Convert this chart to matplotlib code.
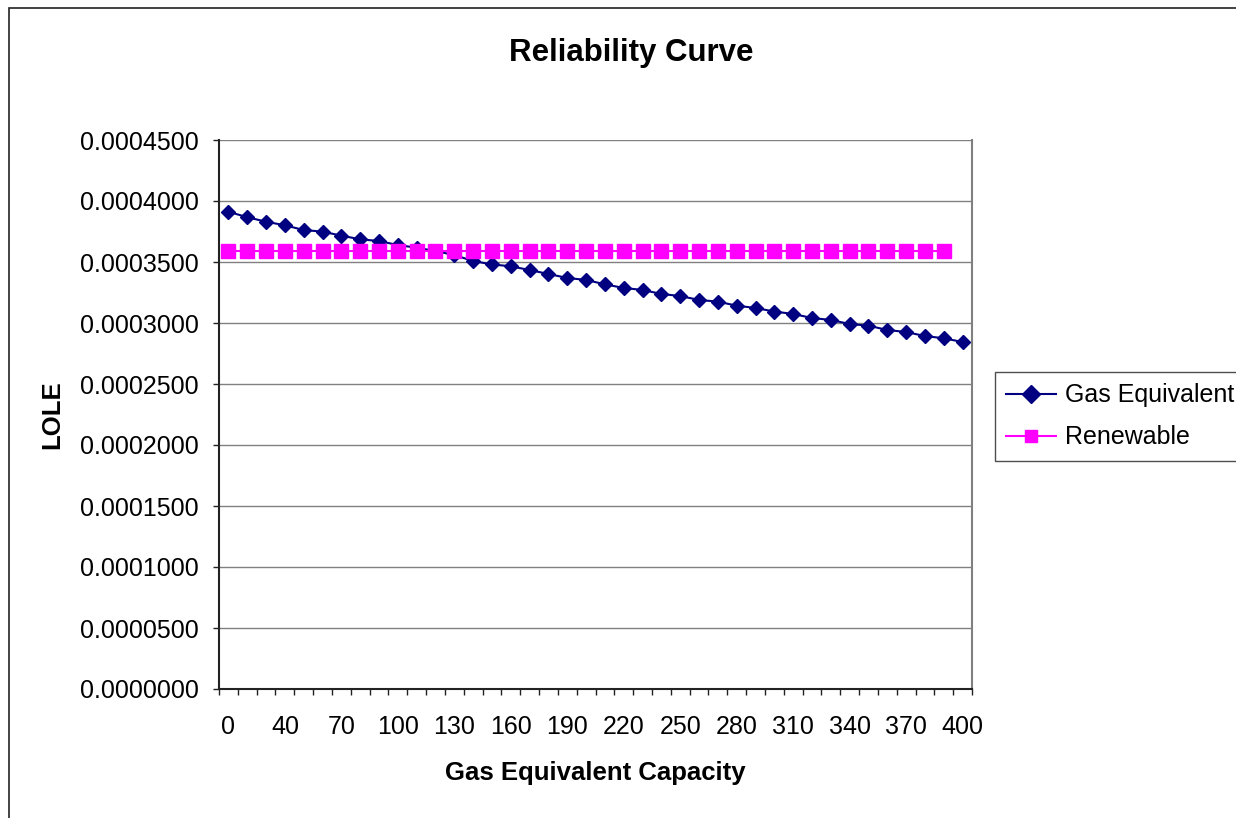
import matplotlib
matplotlib.use("Agg")
import matplotlib.pyplot as plt
from matplotlib.patches import Rectangle
from matplotlib.ticker import FormatStrFormatter, MultipleLocator

categories = ["0", "20", "30"] + [str(v) for v in range(40, 401, 10)]
gas_equivalent = [
    0.0003912, 0.0003867, 0.0003830, 0.0003801, 0.0003762, 0.0003749, 0.0003716,
    0.0003686, 0.0003672, 0.0003639, 0.0003617, 0.0003590, 0.0003557, 0.0003508,
    0.0003480, 0.0003465, 0.0003434, 0.0003402, 0.0003369, 0.0003353, 0.0003317,
    0.0003287, 0.0003271, 0.0003238, 0.0003221, 0.0003189, 0.0003175, 0.0003142,
    0.0003123, 0.0003094, 0.0003074, 0.0003041, 0.0003025, 0.0002992, 0.0002978,
    0.0002943, 0.0002926, 0.0002893, 0.0002875, 0.0002844,
]
renewable = [0.0003590] * 39

plt.rcParams['font.family'] = ['Liberation Sans', 'DejaVu Sans']

fig = plt.figure(figsize=(12.36, 8.18), dpi=100)
fig.patches.append(Rectangle((9/1236, -0.1), 1.5, 1 - 8/818 + 0.1, transform=fig.transFigure,
                             fill=False, edgecolor='#222222', linewidth=1.2, zorder=0))

ax = fig.add_axes([219/1236, 1 - 689/818, (972-219)/1236, (689-140)/818])
n = len(categories)
xs = list(range(n))
ax.plot(xs, gas_equivalent, color='#000080', marker='D', markersize=7, linewidth=1.5,
        label='Gas Equivalent', zorder=3)
ax.plot(xs[:len(renewable)], renewable, color='#FF00FF', marker='s', markersize=9.5,
        linewidth=1.5, label='Renewable', zorder=4)

ax.set_xlim(-0.5, n - 0.5)
ax.set_ylim(0, 0.00045)
ax.yaxis.set_major_locator(MultipleLocator(0.00005))
ax.yaxis.set_major_formatter(FormatStrFormatter('%.7f'))
ax.grid(axis='y', color='#808080', linewidth=1.0)
ax.set_axisbelow(True)

ax.set_xticks([i - 0.5 for i in range(n + 1)], minor=False)
ax.set_xticklabels([])
ax.set_xticks(list(range(0, n, 3)), minor=True)
ax.set_xticklabels([categories[i] for i in range(0, n, 3)], minor=True)
ax.tick_params(axis='x', which='major', length=4.5, width=1, color='#222222', direction='out')
ax.tick_params(axis='x', which='minor', length=0, pad=19, labelsize=18)
ax.tick_params(axis='y', length=4.5, width=1, color='#222222', direction='out', labelsize=18, pad=10)

for s in ['left', 'bottom']:
    ax.spines[s].set_color('#222222')
    ax.spines[s].set_linewidth(1.5)
for s in ['right', 'top']:
    ax.spines[s].set_color('#808080')
    ax.spines[s].set_linewidth(1.5)
ax.spines['top'].set_visible(False)

fig.text(631/1236, 1 - 53/818, 'Reliability Curve', ha='center', va='center',
         fontsize=22.5, fontweight='bold')
fig.text(595/1236, 1 - 773/818, 'Gas Equivalent Capacity', ha='center', va='center',
         fontsize=18.5, fontweight='bold')
fig.text(52/1236, 1 - 415/818, 'LOLE', ha='center', va='center', rotation=90,
         fontsize=18.5, fontweight='bold')

leg = fig.legend(loc='upper left', bbox_to_anchor=(995/1236, 1 - 372/818),
                 frameon=True, fancybox=False, fontsize=18, handlelength=2.0,
                 borderpad=0.45, labelspacing=0.72, handletextpad=0.35, borderaxespad=0)
leg.get_frame().set_edgecolor('#222222')
leg.get_frame().set_linewidth(1.0)
for h in leg.legend_handles:
    h.set_markersize(9)

fig.savefig('out.png', dpi=100)
